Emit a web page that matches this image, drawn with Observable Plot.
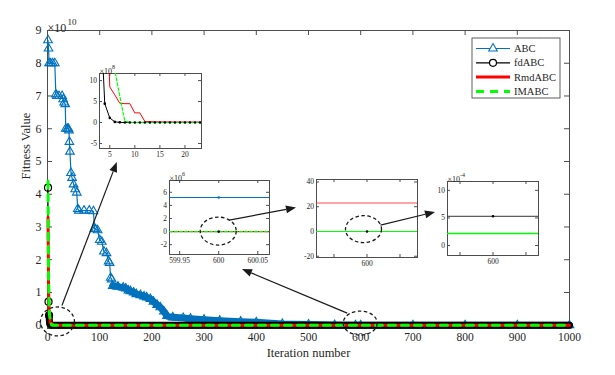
<!DOCTYPE html>
<html><head><meta charset="utf-8">
<script src="https://cdn.jsdelivr.net/npm/d3@7"></script>
<script src="https://cdn.jsdelivr.net/npm/@observablehq/plot@0.6"></script>
<style>
body{margin:0;background:#fff;}
#wrap{position:relative;width:615px;height:375px;overflow:hidden;font-family:"Liberation Serif",serif;background:#fff;}
#wrap svg{position:absolute;overflow:visible;font-family:"Liberation Serif",serif !important;}
#wrap svg text{font-family:"Liberation Serif",serif;}
</style></head><body><div id="wrap"></div>
<script>
// ---------------- data ----------------
const seriesNames = ["ABC", "fdABC", "RmdABC", "IMABC"];

const abcIter = [1,2,3,6,10,14,16,18,22,28,30,32,34,35,38,40,41,42,43,45,47,50,53,56,58,60,70,80,88,90,92,96,100,104,108,113,117,119,121,123,125,135,145,150,155,159,165,170,178,185,190,197,203,210,216,223,229,240,260,274,300,330,370,400,450,500,550,590,600,700,800,900,1000];
const abcVal = [8.70e10,8.45e10,8.00e10,8.00e10,8.00e10,8.00e10,7.05e10,7.00e10,7.00e10,7.00e10,6.90e10,6.80e10,6.75e10,6.00e10,6.00e10,6.00e10,5.95e10,5.60e10,5.30e10,4.65e10,4.50e10,4.30e10,4.15e10,4.05e10,3.55e10,3.50e10,3.50e10,3.50e10,3.48e10,2.95e10,2.93e10,2.90e10,2.60e10,2.55e10,2.25e10,2.20e10,1.95e10,1.90e10,1.45e10,1.40e10,1.20e10,1.18e10,1.15e10,1.12e10,1.06e10,1.04e10,1.00e10,0.95e10,0.92e10,0.88e10,0.85e10,0.80e10,0.72e10,0.62e10,0.55e10,0.42e10,0.28e10,0.24e10,0.22e10,0.20e10,0.17e10,0.14e10,0.11e10,0.09e10,0.04e10,0.02e10,0.006e10,6.0e6,5.2e6,4.8e6,4.5e6,4.3e6,4.2e6];

const fdIter = [1,2,3,4,5,6,7,8,9,10,11,12,13,14,15,16,17,18,19,20,21,22,23,24,25,100,600,1000];
const fdVal = [4.2e10,0.72e10,0.30e10,4.5e8,1.1e8,0.15e8,0.04e8,0,0,0,0,0,0,0,0,0,0,0,0,0,0,0,0,0,0,5.3e-4,5.3e-4,5.3e-4];

const rmdIter = [1,2,3,4,5,6,7,8,9,10,11,12,13,15,20,25,50,100,600,1000];
const rmdVal = [3.3e10,1.2e10,0.35e10,43e8,8.5e8,6.6e8,4.6e8,4.5e8,4.5e8,2.3e8,2.3e8,0.25e8,0.2e8,0.15e8,0.12e8,0.1e8,1e6,23,23,23];

const imIter = [1,2,3,4,5,6,7,8,9,10,15,20,50,100,600,1000];
const imVal = [4.4e10,1.5e10,0.6e10,30e8,20e8,12.5e8,6.3e8,0.3e8,0.05e8,0.02e8,1e5,1e3,1,2.2e-4,2.2e-4,2.2e-4];

const mainXTicks = [0,100,200,300,400,500,600,700,800,900,1000];
const mainYTicks = [0,1e10,2e10,3e10,4e10,5e10,6e10,7e10,8e10,9e10];
const in1XTicks = [5,10,15,20], in1YTicks = [-5,0,5,10];
const in2XTicks = [599.95,600,600.05], in2YTicks = [-2,0,2,4,6];
const in3XTicks = [599.99,600,600.01], in3YTicks = [-20,0,20,40];
const in4XTicks = [599.99,600,600.01], in4YTicks = [0,5,10];

// ---------------- build ----------------
const rec = (it, v) => it.map((t, i) => ({t, v: v[i]}));
const abc = rec(abcIter, abcVal), fd = rec(fdIter, fdVal), rmd = rec(rmdIter, rmdVal), im = rec(imIter, imVal);
const C = {abc: "#0072BD", fd: "#000000", rmd: "#FF0000", im: "#00FF00"};
const FRAME = "#4d4d4d", TXT = "#262626", FONT = "'Liberation Serif', serif";
const wrap = document.getElementById("wrap");

const W = 615, H = 375, mL = 47, mR = 46, mT = 30, mB = 47;
const pH = H - mT - mB, pW = W - mL - mR;
const T = {fontFamily: FONT, fill: TXT};
const main = Plot.plot({
  width: W, height: H, marginLeft: mL, marginRight: mR, marginTop: mT, marginBottom: mB,
  style: {fontFamily: FONT, fontSize: "11px", color: TXT, background: "transparent"},
  x: {domain: [0, 1000]},
  y: {domain: [-0.1e10, 9e10]},
  marks: [
    Plot.frame({stroke: FRAME}),
    Plot.tickX(mainXTicks, {x: d => d, insetTop: pH - 5, stroke: FRAME}),
    Plot.tickX(mainXTicks, {x: d => d, insetBottom: pH - 5, stroke: FRAME}),
    Plot.tickY(mainYTicks, {y: d => d, insetRight: pW - 5, stroke: FRAME}),
    Plot.tickY(mainYTicks, {y: d => d, insetLeft: pW - 5, stroke: FRAME}),
    Plot.axisX({ticks: mainXTicks, tickSize: 0, tickPadding: 4, label: null, tickFormat: d => String(d), fontSize: 11.5, ...T}),
    Plot.axisY({ticks: mainYTicks, tickSize: 0, tickPadding: 6, label: null, tickFormat: d => String(Math.round(d / 1e10)), fontSize: 12, ...T}),
    Plot.text(["Iteration number"], {frameAnchor: "bottom", dy: 28, fontSize: 12.5, ...T}),
    Plot.text(["Fitness Value"], {frameAnchor: "left", dx: -22, rotate: -90, fontSize: 12.5, ...T}),
    Plot.text(["×10"], {frameAnchor: "top-left", textAnchor: "start", dy: -7, fontSize: 12, ...T}),
    Plot.text(["10"], {frameAnchor: "top-left", textAnchor: "start", dx: 20, dy: -12, fontSize: 9, ...T}),
    // ABC
    Plot.line(abc, {x: "t", y: "v", stroke: C.abc, strokeWidth: 1.2}),
    Plot.line(abc.filter(d => d.t >= 125), {x: "t", y: "v", stroke: C.abc, strokeWidth: 7, strokeLinejoin: "round"}),
    Plot.dot(abc, {x: "t", y: "v", symbol: "triangle", r: 3.2, stroke: C.abc, fill: "none", strokeWidth: 1.1}),
    // fdABC
    Plot.line(fd, {x: "t", y: "v", stroke: C.fd, strokeWidth: 1}),
    Plot.line(fd.filter(d => d.t >= 3), {x: "t", y: "v", stroke: C.fd, strokeWidth: 7, strokeLinecap: "round", strokeLinejoin: "round"}),
    Plot.dot(fd.filter(d => d.t <= 3), {x: "t", y: "v", r: 3.5, stroke: C.fd, fill: "none", strokeWidth: 1.2}),
    // RmdABC
    Plot.line(rmd, {x: "t", y: "v", stroke: C.rmd, strokeWidth: 3}),
    // IMABC
    Plot.line(im, {x: "t", y: "v", stroke: C.im, strokeWidth: 3, strokeDasharray: "7,6"})
  ]
});
main.style.left = "0px"; main.style.top = "0px";
wrap.appendChild(main);

function inset(o) {
  const iL = 24, iR = 6, iT = 14, iB = 16;
  const fw = o.box[1] - o.box[0], fh = o.box[3] - o.box[2];
  const sy = d => d.v / o.unit;
  const marks = [
    Plot.frame({stroke: FRAME, fill: "white"}),
    Plot.tickX(o.xt, {x: d => d, insetTop: fh - 3, stroke: FRAME}),
    Plot.tickX(o.xt, {x: d => d, insetBottom: fh - 3, stroke: FRAME}),
    Plot.tickY(o.yt, {y: d => d, insetRight: fw - 3, stroke: FRAME}),
    Plot.tickY(o.yt, {y: d => d, insetLeft: fw - 3, stroke: FRAME}),
    Plot.axisX({ticks: o.xt, tickSize: 0, tickPadding: 3.5, label: null, tickFormat: o.xf, fontSize: 7.5, ...T}),
    Plot.axisY({ticks: o.yt, tickSize: 0, tickPadding: 2.5, label: null, tickFormat: d => String(d), fontSize: 7.5, ...T}),
    Plot.line(abc, {x: "t", y: sy, stroke: C.abc, strokeWidth: 1, clip: true}),
    Plot.line(fd, {x: "t", y: sy, stroke: o.fdColor || C.fd, strokeWidth: 1, clip: true}),
    Plot.line(rmd, {x: "t", y: sy, stroke: o.rmdColor || C.rmd, strokeWidth: o.rmdW || 1, clip: true}),
    Plot.line(im, {x: "t", y: sy, stroke: C.im, strokeWidth: o.imW || 1.2, strokeDasharray: o.imDash || "3,2", clip: true}),
    Plot.dot(abc, {x: "t", y: sy, r: 1.3, fill: C.abc, clip: true}),
    Plot.dot(fd, {x: "t", y: sy, r: 1.3, fill: C.fd, clip: true})
  ];
  if (o.expo) {
    marks.push(Plot.text(["×10"], {frameAnchor: "top-left", textAnchor: "start", dx: 0, dy: -5, fontSize: 8, ...T}));
    marks.push(Plot.text([o.expo], {frameAnchor: "top-left", textAnchor: "start", dx: 12.5, dy: -9, fontSize: 6, ...T}));
  }
  const p = Plot.plot({
    width: fw + iL + iR, height: fh + iT + iB,
    marginLeft: iL, marginRight: iR, marginTop: iT, marginBottom: iB,
    style: {fontFamily: FONT, fontSize: "7.5px", color: TXT, background: "transparent"},
    x: {domain: o.xd}, y: {domain: o.yd},
    marks
  });
  p.style.left = (o.box[0] - iL) + "px";
  p.style.top = (o.box[2] - iT) + "px";
  wrap.appendChild(p);
  return {
    px: x => o.box[0] - iL + p.scale("x").apply(x),
    py: y => o.box[2] - iT + p.scale("y").apply(y),
    box: o.box
  };
}

const only600 = d => (d === 600 ? "600" : "");
const I1 = inset({box: [99, 201, 73, 148], xd: [2.95, 23.3], yd: [-6.2, 11.7], unit: 1e8, xt: in1XTicks, yt: in1YTicks, xf: d => String(d), expo: "8"});
const I2 = inset({box: [169, 269, 180, 254], xd: [599.937, 600.065], yd: [-3.5, 7.8], unit: 1e6, xt: in2XTicks, yt: in2YTicks, xf: d => String(d), expo: "6"});
const I3 = inset({box: [316, 417, 179, 257], xd: [599.9847, 600.0153], yd: [-21, 42], unit: 1, xt: in3XTicks, yt: in3YTicks, xf: only600, rmdW: 1.2, rmdColor: "#ff4a4a", imDash: "2.5,2"});
const I4 = inset({box: [447, 538, 181, 255], xd: [599.9862, 600.0138], yd: [-1.8, 11.6], unit: 1e-4, xt: in4XTicks, yt: in4YTicks, xf: only600, expo: "-4", fdColor: "#333", imW: 1.5, imDash: "2,2.2"});

// ---------------- annotations ----------------
const mx = x => main.scale("x").apply(x), my = y => main.scale("y").apply(y);
const ov = d3.create("svg").attr("width", W).attr("height", H).style("left", "0px").style("top", "0px");
function ellipse(cx, cy, rx, ry) {
  ov.append("ellipse").attr("cx", cx).attr("cy", cy).attr("rx", rx).attr("ry", ry)
    .attr("fill", "none").attr("stroke", "#1a1a1a").attr("stroke-width", 1.3).attr("stroke-dasharray", "3.5,2.5");
}
function arrow(x1, y1, x2, y2) {
  const a = Math.atan2(y2 - y1, x2 - x1), L = 10, hw = 4;
  const bx = x2 - L * Math.cos(a), by = y2 - L * Math.sin(a);
  ov.append("line").attr("x1", x1).attr("y1", y1).attr("x2", bx).attr("y2", by)
    .attr("stroke", "#1a1a1a").attr("stroke-width", 1.2);
  ov.append("polygon").attr("points",
    `${x2},${y2} ${bx + hw * Math.sin(a)},${by - hw * Math.cos(a)} ${bx - hw * Math.sin(a)},${by + hw * Math.cos(a)}`)
    .attr("fill", "#1a1a1a");
}
const e1 = [mx(20), my(0.1e10)];
const e2 = [mx(600), my(0.05e10)];
const e3 = [I2.px(600), I2.py(0)];
const e4 = [I3.px(600) - 3, I3.py(1.5)];
ellipse(e1[0], e1[1], 17, 14.5);
ellipse(e2[0], e2[1], 17, 12);
ellipse(e3[0], e3[1], 18, 14);
ellipse(e4[0], e4[1], 18, 13.5);
arrow(e1[0] + 4.5, e1[1] - 16, I1.px(6.5), I1.box[3] + 14);
arrow(e2[0] - 13, e2[1] - 10, I2.box[1] - 27, I2.box[3] + 15);
arrow(e3[0] + 11, e3[1] - 11, I3.box[0] - 20, I3.py(19));
arrow(e4[0] + 17, e4[1] - 4, I4.box[0] - 12, I4.py(6));

// ---------------- legend ----------------
const lg = ov.append("g");
lg.append("rect").attr("x", 472).attr("y", 38).attr("width", 88).attr("height", 60)
  .attr("fill", "white").attr("stroke", FRAME).attr("stroke-width", 0.9);
const legendStyle = [
  {stroke: C.abc, w: 1.2, dash: null, marker: "tri"},
  {stroke: C.fd, w: 1.2, dash: null, marker: "circ"},
  {stroke: C.rmd, w: 3, dash: null, marker: null},
  {stroke: C.im, w: 3, dash: "8,6", marker: null}
];
seriesNames.forEach((name, i) => {
  const y = 48.5 + i * 14.3, s = legendStyle[i];
  const ln = lg.append("line").attr("x1", 476).attr("x2", 510).attr("y1", y).attr("y2", y)
    .attr("stroke", s.stroke).attr("stroke-width", s.w);
  if (s.dash) ln.attr("stroke-dasharray", s.dash);
  if (s.marker === "tri") lg.append("path").attr("d", d3.symbol(d3.symbolTriangle, 32)()).attr("transform", `translate(493,${y})`)
    .attr("fill", "white").attr("stroke", s.stroke).attr("stroke-width", 1.1);
  if (s.marker === "circ") lg.append("circle").attr("cx", 493).attr("cy", y).attr("r", 3.5)
    .attr("fill", "white").attr("stroke", s.stroke).attr("stroke-width", 1.2);
  lg.append("text").attr("x", 514).attr("y", y).attr("dy", "0.35em").attr("font-size", 10.5)
    .attr("font-family", FONT).attr("fill", TXT).text(name);
});
wrap.appendChild(ov.node());
</script>
</body></html>
